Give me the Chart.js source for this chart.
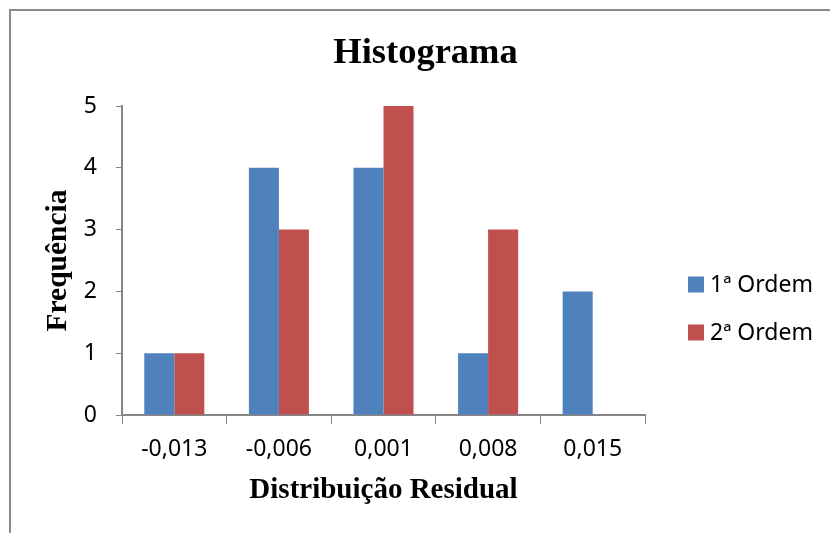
<!DOCTYPE html>
<html>
<head>
<meta charset="utf-8">
<script src="https://cdn.jsdelivr.net/npm/chart.js@4"></script>
<style>
  html, body { margin: 0; padding: 0; background: #fff; }
  #wrap { position: relative; width: 830px; height: 533px; }
  #frame { position: absolute; left: 9px; top: 9px; width: 840px; height: 540px; border: 2px solid #8a8a8a; box-sizing: border-box; }
  canvas { position: absolute; left: 0; top: 0; }
</style>
</head>
<body>
<div id="wrap">
  <div id="frame"></div>
  <canvas id="histo" width="830" height="533"></canvas>
</div>
<script>
const categories = ["-0,013", "-0,006", "0,001", "0,008", "0,015"];
const ordem1 = [1, 4, 4, 1, 2];
const ordem2 = [1, 3, 5, 3, 0];
const seriesNames = ["1ª Ordem", "2ª Ordem"];
const yTicks = [0, 1, 2, 3, 4, 5];

const axisGray = "#868686";
const tickFont = { family: "Noto Sans", size: 23 };

// titulo e legenda desenhados a mao
const extrasPlugin = {
  id: "extras",
  afterDraw(chart) {
    const ctx = chart.ctx;
    ctx.save();
    ctx.fillStyle = "#000";
    ctx.font = "bold 36.5px 'Liberation Serif'";
    ctx.textAlign = "center";
    ctx.textBaseline = "alphabetic";
    ctx.fillText("Histograma", 425.5, 63);

    ctx.font = "23px 'Noto Sans'";
    ctx.textAlign = "left";
    ctx.textBaseline = "middle";
    chart.data.datasets.forEach((ds, i) => {
      const y = 284.5 + i * 48;
      ctx.fillStyle = ds.backgroundColor;
      ctx.fillRect(688, y - 8, 16, 16);
      ctx.fillStyle = "#000";
      ctx.fillText(ds.label, 710, y + 1);
    });
    ctx.restore();
  },
};

const ctx = document.getElementById("histo").getContext("2d");
const histChart = new Chart(ctx, {
  type: "bar",
  data: {
    labels: categories,
    datasets: [
      {
        label: seriesNames[0],
        data: ordem1,
        backgroundColor: "#4F81BD",
        categoryPercentage: 0.574,
        barPercentage: 1,
      },
      {
        label: seriesNames[1],
        data: ordem2,
        backgroundColor: "#C0504D",
        categoryPercentage: 0.574,
        barPercentage: 1,
      },
    ],
  },
  options: {
    responsive: false,
    animation: false,
    layout: {
      padding: { top: 106, right: 185, left: 0, bottom: 0 },
    },
    scales: {
      x: {
        grid: { drawOnChartArea: false, tickLength: 9, color: axisGray, offset: true },
        border: { color: axisGray, width: 2 },
        ticks: { color: "#000", font: tickFont, padding: 12, maxRotation: 0 },
        title: {
          display: true,
          text: "Distribuição Residual",
          color: "#000",
          font: { family: "Liberation Serif", size: 29, weight: "bold" },
          padding: { top: 0, bottom: 25 },
        },
        afterFit: (scale) => {
          scale.height = 118;
        },
      },
      y: {
        min: 0,
        max: 5,
        grid: { drawOnChartArea: false, tickLength: 6, color: axisGray },
        border: { color: axisGray, width: 2 },
        ticks: {
          color: "#000",
          font: tickFont,
          padding: 19,
          stepSize: 1,
          callback: (v) => (yTicks.includes(v) ? v : ""),
        },
        title: {
          display: true,
          text: "Frequência",
          color: "#000",
          font: { family: "Liberation Serif", size: 29.5, weight: "bold" },
          padding: { top: 41, bottom: 0 },
        },
        afterFit: (scale) => {
          scale.width = 122;
        },
      },
    },
    plugins: {
      legend: { display: false },
      tooltip: { enabled: false },
    },
  },
  plugins: [extrasPlugin],
});
</script>
</body>
</html>
